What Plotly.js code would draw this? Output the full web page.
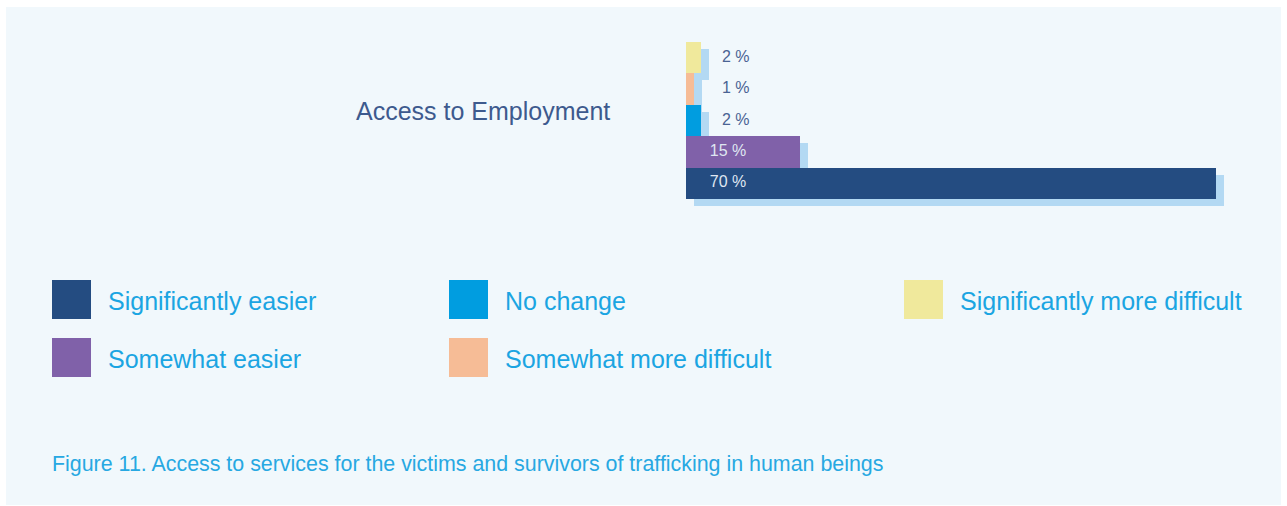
<!DOCTYPE html>
<html>
<head>
<meta charset="utf-8">
<script src="https://cdn.plot.ly/plotly-3.0.1.min.js"></script>
<style>
  html, body { margin: 0; padding: 0; background: #ffffff; width: 1287px; height: 506px; overflow: hidden; }
  #chart { position: absolute; left: 6px; top: 7px; width: 1275px; height: 498px; }
</style>
</head>
<body>
<div id="chart"></div>
<script>
// ---- data ----
const groupLabel = 'Access to Employment';
const categories = ['Significantly easier', 'Somewhat easier', 'No change', 'Somewhat more difficult', 'Significantly more difficult'];
const values = [70, 15, 2, 1, 2];
const seriesColors = ['#244c81', '#8061a9', '#009de0', '#f6bc96', '#f0e99c'];
const caption = 'Figure 11. Access to services for the victims and survivors of trafficking in human beings';

// ---- layout helpers (pixel -> paper) ----
const W = 1275, H = 498;
const px = x => x / W;
const py = y => 1 - y / H;
const plotL = 680, plotW = 583, barsT = 35, barsB = 192;
const padPx = 12;                       // extra room so shadows are not clipped
const R = 77;
const shadowDx = 8, shadowDy = 7;
const nCat = categories.length;
const catPx = (barsB - barsT) / nCat;
const padCat = padPx / catPx;
const dxData = shadowDx * R / plotW;
const dyData = shadowDy / catPx;

const fontFam = '"Liberation Sans", Arial, Helvetica, sans-serif';

const shadow = {
  type: 'bar', orientation: 'h', x: values, y: categories,
  xaxis: 'x', yaxis: 'y',
  marker: { color: '#b3d9f3', line: { width: 0 } },
  hoverinfo: 'skip', showlegend: false
};
const bars = {
  type: 'bar', orientation: 'h', x: values, y: categories,
  xaxis: 'x2', yaxis: 'y2',
  marker: { color: seriesColors, line: { width: 0 } },
  hoverinfo: 'skip', showlegend: false
};
const labels = {
  type: 'scatter', mode: 'text',
  x: values.map(v => v < 10 ? 4.75 : 3.15),
  y: categories,
  text: values.map(v => v + ' %'),
  textposition: 'middle right',
  textfont: { family: fontFam, size: 16, color: values.map(v => v < 10 ? '#4a6393' : '#dfe6f1') },
  xaxis: 'x2', yaxis: 'y2',
  hoverinfo: 'skip', showlegend: false, cliponaxis: false
};

const legendCols = [46, 443, 898];
const legendRows = [273, 331];
const boxSize = 39;
const shapes = [];
const annotations = [];
categories.forEach((name, i) => {
  const cx = legendCols[Math.floor(i / 2)];
  const ry = legendRows[i % 2];
  shapes.push({
    type: 'rect', xref: 'paper', yref: 'paper',
    x0: px(cx), x1: px(cx + boxSize), y0: py(ry + boxSize), y1: py(ry),
    fillcolor: seriesColors[i], line: { width: 0 }
  });
  annotations.push({
    xref: 'paper', yref: 'paper', x: px(cx + 54), y: py(ry + boxSize / 2 + 1),
    xanchor: 'left', yanchor: 'middle', showarrow: false, text: name,
    font: { family: fontFam, size: 25, color: '#1ba5e2' }
  });
});
annotations.push({
  xref: 'paper', yref: 'paper', x: px(606), y: py(104),
  xanchor: 'right', yanchor: 'middle', showarrow: false, text: groupLabel,
  font: { family: fontFam, size: 25, color: '#3d5a8e' }
});
annotations.push({
  xref: 'paper', yref: 'paper', x: px(44), y: py(457),
  xanchor: 'left', yanchor: 'middle', showarrow: false, text: caption,
  font: { family: fontFam, size: 21.4, color: '#27a8e2' }
});

const dom = [px(plotL), px(plotL + plotW)];
const ydom = [py(barsB + padPx), py(barsT - padPx)];
const yRange = [-0.5 - padCat, nCat - 0.5 + padCat];
const layout = {
  width: W, height: H,
  margin: { l: 0, r: 0, t: 0, b: 0, pad: 0 },
  paper_bgcolor: '#f1f8fc', plot_bgcolor: 'rgba(0,0,0,0)',
  barmode: 'overlay', bargap: 0,
  showlegend: false,
  xaxis: { domain: dom, range: [-dxData, R - dxData], visible: false, fixedrange: true },
  yaxis: { domain: ydom, type: 'category', categoryorder: 'array', categoryarray: categories,
           range: [yRange[0] + dyData, yRange[1] + dyData], visible: false, fixedrange: true },
  xaxis2: { overlaying: 'x', anchor: 'y2', range: [0, R], visible: false, fixedrange: true },
  yaxis2: { overlaying: 'y', anchor: 'x2', type: 'category', categoryorder: 'array', categoryarray: categories,
            range: yRange, visible: false, fixedrange: true },
  shapes: shapes,
  annotations: annotations
};

Plotly.newPlot('chart', [shadow, bars, labels], layout, { displayModeBar: false, staticPlot: true });
</script>
</body>
</html>
